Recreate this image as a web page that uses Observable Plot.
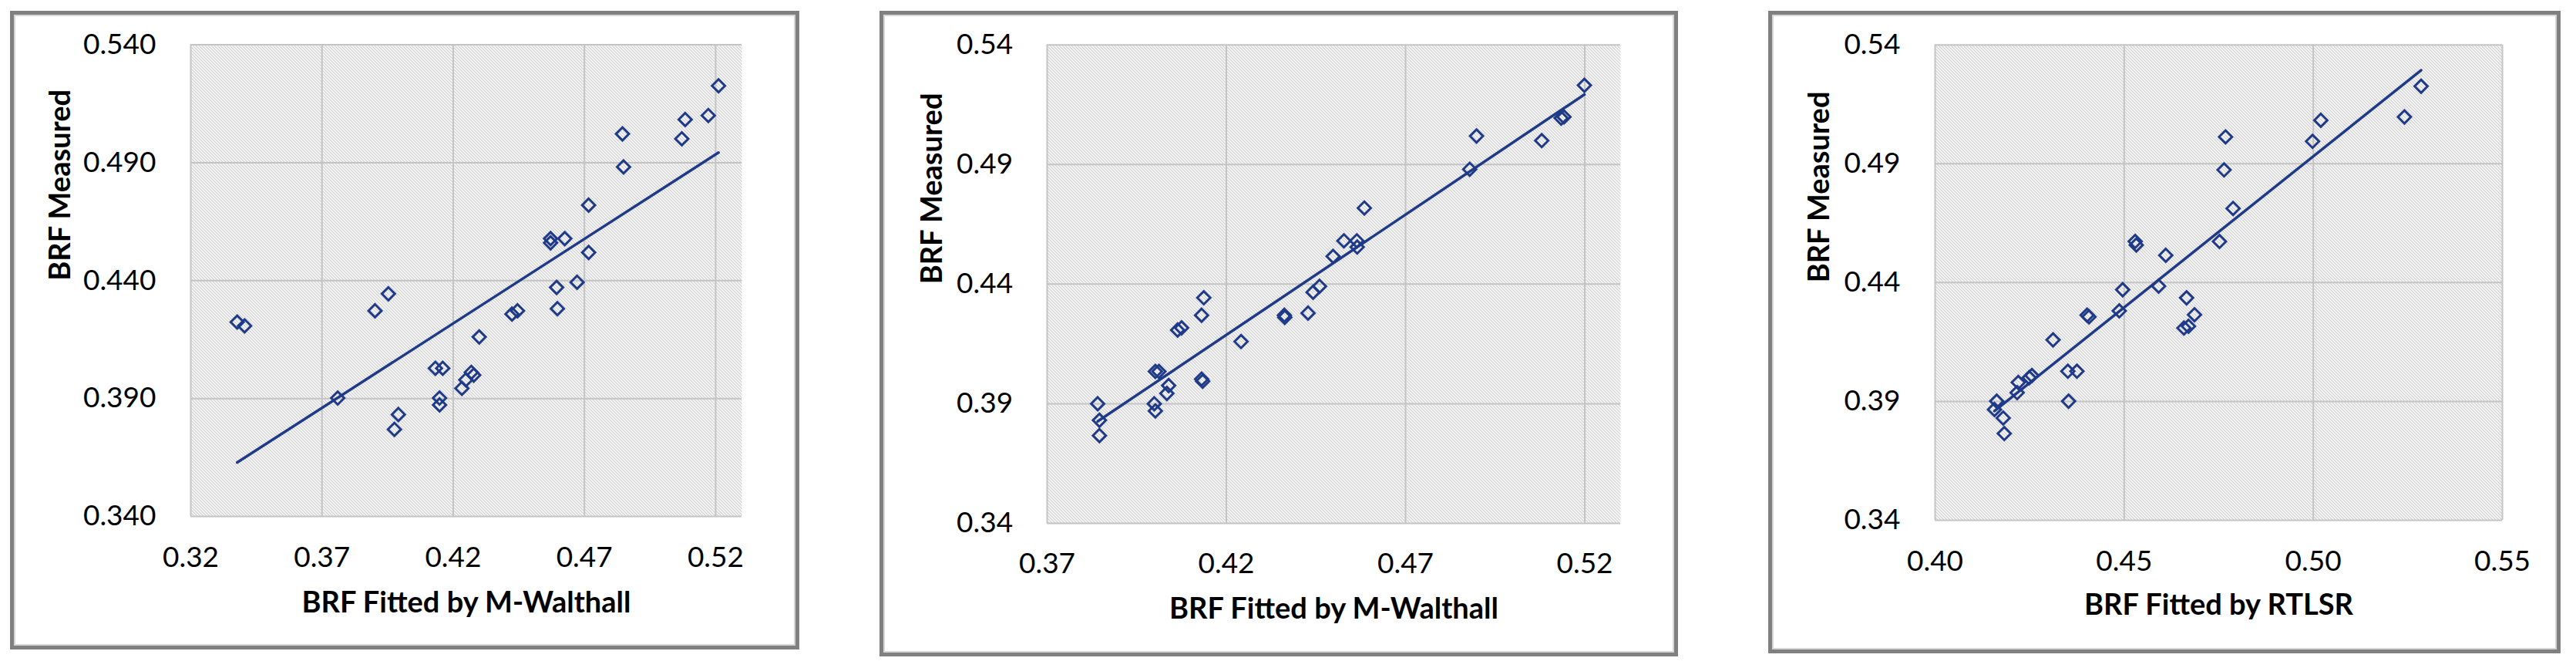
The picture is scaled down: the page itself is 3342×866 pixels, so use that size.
<!DOCTYPE html>
<html><head><meta charset="utf-8">
<script src="https://cdn.jsdelivr.net/npm/d3@7"></script>
<script src="https://cdn.jsdelivr.net/npm/@observablehq/plot@0.6"></script>
<style>
body{margin:0;background:#fff;width:3342px;height:866px;position:relative;overflow:hidden;font-family:Lato,sans-serif;}
.frame{position:absolute;box-sizing:border-box;border:5px solid #808080;box-shadow:inset 0 0 0 2px #d6d6d6;background:#fff;}
.panel{position:absolute;}
</style></head><body>
<svg width="0" height="0" style="position:absolute"><defs>
<pattern id="hatch" width="4" height="4" patternUnits="userSpaceOnUse">
<rect width="4" height="4" fill="#fff"/>
<path d="M-1,-1L5,5M-1,3L1,5M3,-1L5,1" stroke="#a4a4a4" stroke-width="1"/>
</pattern></defs></svg>
<script>
// ---- Data ----
const yTicks = [0.34, 0.39, 0.44, 0.49, 0.54];
const xTicks1 = [0.32, 0.37, 0.42, 0.47, 0.52];
const xTicks2 = [0.37, 0.42, 0.47, 0.52];
const xTicks3 = [0.40, 0.45, 0.50, 0.55];
const yTitle = "BRF Measured";
const xTitle1 = "BRF Fitted by M-Walthall";
const xTitle2 = "BRF Fitted by M-Walthall";
const xTitle3 = "BRF Fitted by RTLSR";

const fitted1 = [0.3377,0.3405,0.3760,0.3902,0.3953,0.3976,0.3991,0.4132,0.4160,0.4148,0.4148,0.4233,0.4248,0.4269,0.4278,0.4299,0.4424,0.4445,0.4571,0.4571,0.4625,0.4594,0.4597,0.4672,0.4716,0.4716,0.4845,0.4849,0.5071,0.5084,0.5172,0.5211];
const measured1 = [0.4224,0.4208,0.3902,0.4272,0.4344,0.3769,0.3832,0.4028,0.4028,0.3902,0.3873,0.3943,0.3979,0.4011,0.3999,0.4161,0.4258,0.4272,0.4578,0.4560,0.4578,0.4371,0.4281,0.4393,0.4519,0.4720,0.5022,0.4882,0.5001,0.5083,0.5100,0.5226];

const fitted2 = [0.3841,0.3846,0.3846,0.3999,0.4002,0.4002,0.4012,0.4034,0.4039,0.4064,0.4075,0.4131,0.4134,0.4131,0.4137,0.4241,0.4362,0.4363,0.4428,0.4442,0.4460,0.4498,0.4528,0.4564,0.4565,0.4585,0.4879,0.4898,0.5080,0.5134,0.5142,0.5199];
const measured2 = [0.3900,0.3831,0.3767,0.3900,0.3870,0.4035,0.4035,0.3943,0.3976,0.4208,0.4217,0.4003,0.3994,0.4270,0.4343,0.4160,0.4270,0.4261,0.4279,0.4366,0.4391,0.4516,0.4581,0.4581,0.4555,0.4718,0.4880,0.5019,0.5000,0.5094,0.5099,0.5231];

const fitted3 = [0.4163,0.4157,0.4180,0.4183,0.4217,0.4220,0.4249,0.4256,0.4312,0.4351,0.4375,0.4353,0.4402,0.4407,0.4487,0.4496,0.4529,0.4532,0.4591,0.4610,0.4658,0.4670,0.4665,0.4686,0.4752,0.4764,0.4768,0.4788,0.4998,0.5020,0.5241,0.5285];
const measured3 = [0.3901,0.3866,0.3830,0.3765,0.3937,0.3980,0.4000,0.4009,0.4159,0.4027,0.4027,0.3901,0.4263,0.4256,0.4281,0.4370,0.4573,0.4558,0.4385,0.4515,0.4209,0.4216,0.4336,0.4265,0.4573,0.4874,0.5013,0.4712,0.4994,0.5083,0.5097,0.5226];

// ---- Drawing ----
const navy = "#1f3a88";
const panels = [
  {x: fitted1, y: measured1, xTicks: xTicks1, xDomain: [0.32, 0.53], xFmt: ".2f", yFmt: ".3f", xTitle: xTitle1,
   left: 13, top: 14, w: 1024, h: 828, mL: 234, mR: 75, mT: 43.5, mB: 173, xPad: 39.4, yPad: 45, xTitleDy: 124, yTitleDx: -168.5},
  {x: fitted2, y: measured2, xTicks: xTicks2, xDomain: [0.37, 0.53], xFmt: ".2f", yFmt: ".2f", xTitle: xTitle2,
   left: 1141, top: 14, w: 1036, h: 837, mL: 217, mR: 75, mT: 43.7, mB: 173, xPad: 38.4, yPad: 44.4, xTitleDy: 123, yTitleDx: -149},
  {x: fitted3, y: measured3, xTicks: xTicks3, xDomain: [0.40, 0.55], xFmt: ".2f", yFmt: ".2f", xTitle: xTitle3,
   left: 2294, top: 14, w: 1028, h: 833, mL: 216, mR: 76, mT: 43.7, mB: 173, xPad: 39.7, yPad: 45, xTitleDy: 122, yTitleDx: -150}
];

for (const p of panels) {
  const frame = document.createElement("div");
  frame.className = "frame";
  Object.assign(frame.style, {left: p.left + "px", top: p.top + "px", width: p.w + "px", height: p.h + "px"});
  document.body.appendChild(frame);

  const data = p.x.map((x, i) => ({x, y: p.y[i]}));
  const chart = Plot.plot({
    width: p.w, height: p.h,
    marginLeft: p.mL, marginRight: p.mR, marginTop: p.mT, marginBottom: p.mB,
    style: {background: "transparent", fontFamily: "Lato, sans-serif", overflow: "visible"},
    x: {domain: p.xDomain},
    y: {domain: [0.34, 0.54]},
    marks: [
      Plot.frame({fill: "url(#hatch)", stroke: "none"}),
      Plot.ruleX(p.xTicks, {stroke: "#c4c4c4", strokeWidth: 2}),
      Plot.ruleY(yTicks, {stroke: "#c4c4c4", strokeWidth: 2}),
      Plot.axisX(p.xTicks, {tickSize: 0, tickPadding: p.xPad, fontSize: 37, fill: "#000", tickFormat: d3.format(p.xFmt), label: null}),
      Plot.axisY(yTicks, {tickSize: 0, tickPadding: p.yPad, fontSize: 37, fill: "#000", tickFormat: d3.format(p.yFmt), label: null}),
      Plot.linearRegressionY(data, {x: "x", y: "y", stroke: navy, strokeWidth: 3.5, ci: 0}),
      Plot.dot(data, {x: "x", y: "y", symbol: "diamond2", r: 7.6, stroke: navy, strokeWidth: 3, fill: "none"}),
      Plot.text([p.xTitle], {frameAnchor: "bottom", lineAnchor: "bottom", dy: p.xTitleDy, fontWeight: "bold", fontSize: 38, fill: "#000"}),
      Plot.text([yTitle], {frameAnchor: "left", rotate: -90, lineAnchor: "middle", dx: p.yTitleDx, fontWeight: "bold", fontSize: 38, fill: "#000"})
    ]
  });
  chart.classList.add("panel");
  Object.assign(chart.style, {left: p.left + "px", top: p.top + "px"});
  document.body.appendChild(chart);
}
</script>
</body></html>
